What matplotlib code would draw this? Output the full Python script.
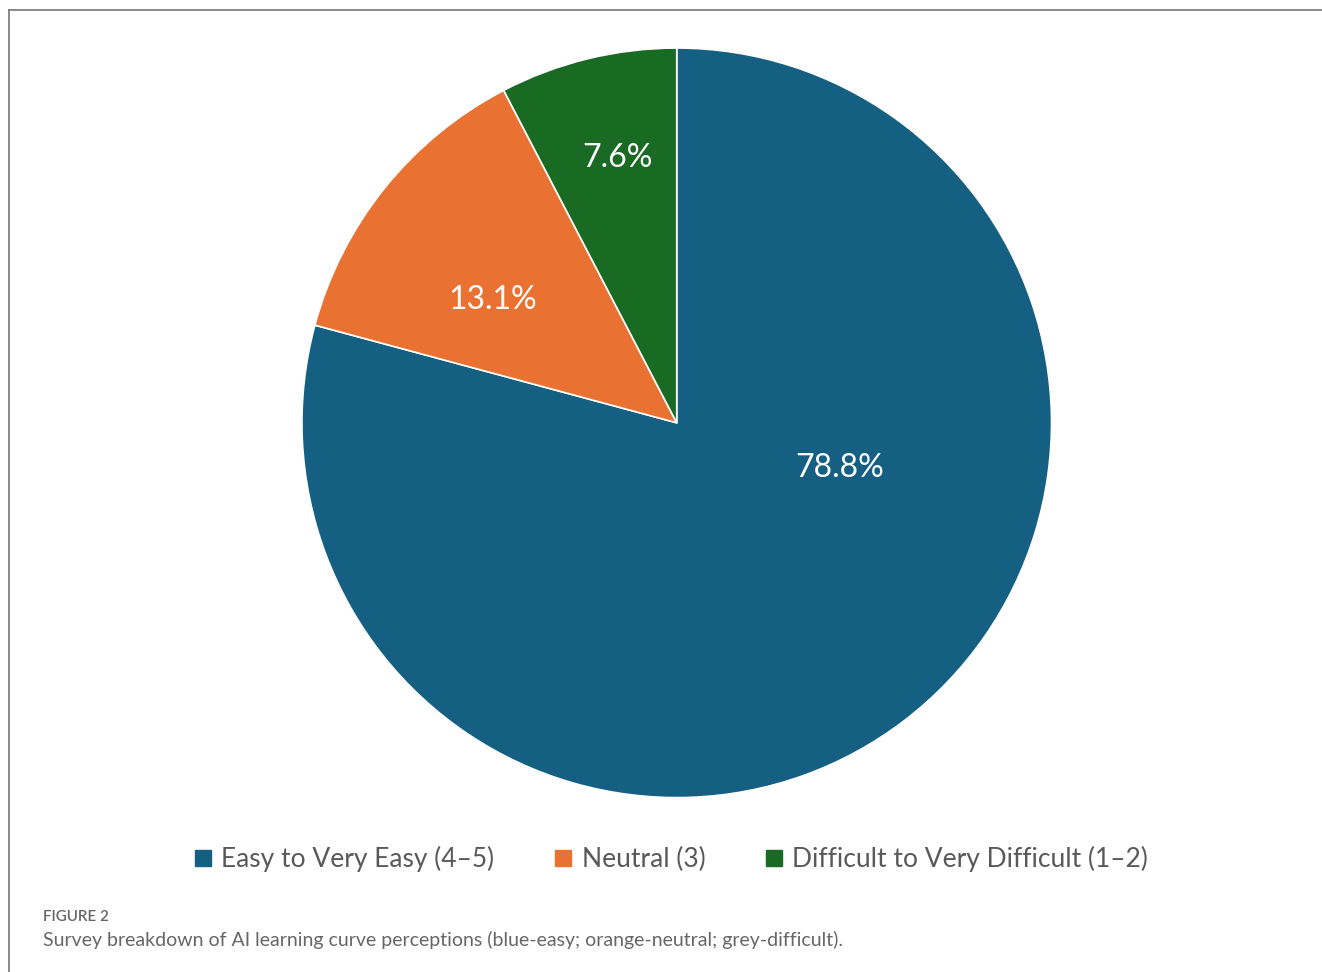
import matplotlib
matplotlib.use("Agg")
import matplotlib.pyplot as plt
from matplotlib.lines import Line2D
from matplotlib.patches import Patch

plt.rcParams['font.family'] = ['Lato', 'DejaVu Sans']

labels = ["Easy to Very Easy (4\u20135)", "Neutral (3)", "Difficult to Very Difficult (1\u20132)"]
values = [78.8, 13.1, 7.6]
colors = ["#156082", "#E97132", "#196B24"]
# where Excel put each percentage label (pie radius units)
label_pos = [(0.435, -0.12), (-0.49, 0.328), (-0.157, 0.707)]

fig = plt.figure(figsize=(13.22, 9.72), dpi=100)
ax = fig.add_axes([0.2284, 0.179, 0.567, 0.772])

wedges, _ = ax.pie(values, colors=colors, startangle=90, counterclock=False,
                   wedgeprops=dict(edgecolor="white", linewidth=1.2))
for (x, y), v in zip(label_pos, values):
    ax.text(x, y, f"{v:.1f}%", color="white", fontsize=23, ha="center", va="center")
ax.set_xlim(-1, 1)
ax.set_ylim(-1, 1)
ax.set_aspect("equal")

handles = [Patch(facecolor=c, edgecolor=c) for c in colors]
fig.legend(handles, labels, loc="center", bbox_to_anchor=(0.508, 0.116), ncol=3,
           frameon=False, fontsize=19, labelcolor="#595959",
           handlelength=0.6, handleheight=0.6, handletextpad=0.4, columnspacing=2.3)

# frame lines at top and left
fig.add_artist(Line2D([9 / 1322, 9 / 1322], [0, 1 - 10 / 972], color="#777777", lw=1.2))
fig.add_artist(Line2D([9 / 1322, 1], [1 - 10 / 972, 1 - 10 / 972], color="#777777", lw=1.2))

fig.text(43 / 1322, 1 - 917 / 972, "FIGURE 2", fontsize=11, color="#666666",
         va="center", fontweight="semibold")
fig.text(43 / 1322, 1 - 940 / 972,
         "Survey breakdown of AI learning curve perceptions (blue-easy; orange-neutral; grey-difficult).",
         fontsize=14, color="#666666", va="center")

fig.savefig("out.png", dpi=100)
